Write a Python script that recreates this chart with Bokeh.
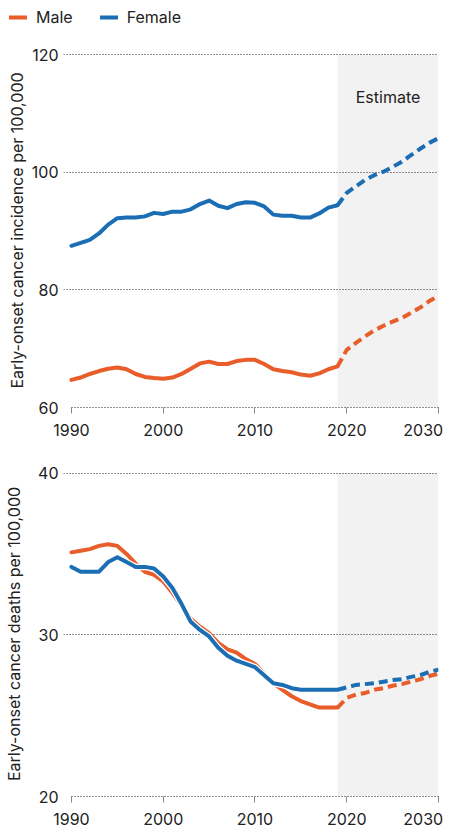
from bokeh.plotting import figure
from bokeh.models import Range1d, FixedTicker, BoxAnnotation, Legend, LegendItem, ColumnDataSource
from bokeh.layouts import column
from bokeh.embed import file_html
from bokeh.resources import INLINE
from bokeh.core.properties import value

# ---------------- data ----------------
years = list(range(1990, 2020))
proj_years = list(range(2019, 2031))

inc_male = [64.7, 65.1, 65.7, 66.2, 66.6, 66.8, 66.5, 65.7, 65.2, 65.0,
            64.9, 65.1, 65.7, 66.6, 67.5, 67.8, 67.4, 67.4, 67.9, 68.1,
            68.1, 67.4, 66.5, 66.2, 66.0, 65.6, 65.4, 65.8, 66.5, 67.0]
inc_female = [87.5, 88.0, 88.5, 89.6, 91.1, 92.2, 92.3, 92.3, 92.5, 93.1,
              92.9, 93.3, 93.3, 93.7, 94.6, 95.2, 94.3, 93.9, 94.6, 94.9,
              94.8, 94.2, 92.8, 92.6, 92.6, 92.3, 92.3, 93.0, 94.0, 94.4]
inc_male_proj = [67.0, 69.8, 71.0, 72.1, 73.1, 73.9, 74.6, 75.2, 76.1, 77.0, 78.1, 79.0]
inc_female_proj = [94.4, 96.5, 97.6, 98.7, 99.5, 100.1, 100.9, 101.8, 102.9, 104.0, 105.0, 105.8]

death_male = [35.1, 35.2, 35.3, 35.5, 35.6, 35.5, 35.0, 34.4, 33.9, 33.7,
              33.3, 32.6, 31.8, 31.0, 30.5, 30.1, 29.5, 29.1, 28.9, 28.5,
              28.2, 27.6, 27.0, 26.6, 26.2, 25.9, 25.7, 25.5, 25.5, 25.5]
death_female = [34.2, 33.9, 33.9, 33.9, 34.5, 34.8, 34.5, 34.2, 34.2, 34.1,
                33.6, 32.9, 31.9, 30.8, 30.3, 29.9, 29.2, 28.7, 28.4, 28.2,
                28.0, 27.5, 27.0, 26.9, 26.7, 26.6, 26.6, 26.6, 26.6, 26.6]
death_male_proj = [25.5, 26.1, 26.3, 26.4, 26.6, 26.7, 26.85, 26.95, 27.1, 27.25, 27.45, 27.6]
death_female_proj = [26.6, 26.75, 26.9, 26.95, 27.0, 27.1, 27.2, 27.25, 27.4, 27.5, 27.7, 27.85]

x_ticks = [1990, 2000, 2010, 2020, 2030]
inc_ticks = [60, 80, 100, 120]
death_ticks = [20, 30, 40]
est_start, est_end = 2019, 2030
series_labels = ["Male", "Female"]
estimate_label = "Estimate"

ORANGE = "#e85d2a"
BLUE = "#1b6eb4"
FONT = "Inter"
TEXT = "#222222"
GRID = "#222222"


def make_chart(height, b_top, b_bottom, yr, yticks, ylabel, lab_standoff, x_standoff,
               male, female, male_p, female_p):
    p = figure(width=453, height=height,
               x_range=Range1d(1989.13, 2030), y_range=Range1d(*yr),
               output_backend="svg", toolbar_location=None,
               min_border_left=63, min_border_right=15,
               min_border_top=b_top, min_border_bottom=b_bottom)
    p.outline_line_color = None
    p.background_fill_color = "white"
    p.border_fill_color = "white"

    p.add_layout(BoxAnnotation(left=est_start, right=est_end, top=yticks[-1],
                               fill_color="#f2f2f2", fill_alpha=1.0,
                               line_color=None, level="image"))

    # grid
    p.xgrid.visible = False
    p.ygrid.ticker = FixedTicker(ticks=yticks[1:])
    p.ygrid.grid_line_color = GRID
    p.ygrid.grid_line_dash = "1 2"
    p.ygrid.grid_line_width = 1

    # x axis
    xa = p.xaxis[0]
    xa.ticker = FixedTicker(ticks=x_ticks)
    xa.major_label_overrides = {2030: "2030\u2007"}
    xa.bounds = (x_ticks[0], x_ticks[-1])
    xa.axis_line_color = GRID
    xa.axis_line_dash = "1 2"
    xa.major_tick_in = 0
    xa.major_tick_out = 6
    xa.major_tick_line_color = "#888888"
    xa.minor_tick_line_color = None
    xa.major_label_text_font = FONT
    xa.major_label_text_font_size = "16px"
    xa.major_label_text_line_height = 1.0
    xa.major_label_text_color = TEXT
    xa.major_label_standoff = x_standoff

    # y axis
    ya = p.yaxis[0]
    ya.ticker = FixedTicker(ticks=yticks)
    ya.axis_line_color = None
    ya.major_tick_line_color = None
    ya.minor_tick_line_color = None
    ya.major_tick_out = 0
    ya.major_tick_in = 0
    ya.major_label_standoff = 5
    ya.major_label_text_font = FONT
    ya.major_label_text_font_size = "16px"
    ya.major_label_text_color = TEXT
    ya.axis_label = ylabel
    ya.axis_label_text_font = FONT
    ya.axis_label_text_font_size = "16px"
    ya.axis_label_text_font_style = "normal"
    ya.axis_label_text_color = TEXT
    ya.axis_label_standoff = lab_standoff

    p.line(years, male, line_color=ORANGE, line_width=4,
           line_join="round", line_cap="round")
    p.line(proj_years, male_p, line_color=ORANGE, line_width=4,
           line_dash="9 5", line_join="round")
    p.line(years, female, line_color="white", line_width=6.5,
           line_join="round", line_cap="round")
    p.line(years, female, line_color=BLUE, line_width=4,
           line_join="round", line_cap="round")
    p.line(proj_years, female_p, line_color=BLUE, line_width=4,
           line_dash="9 5", line_join="round")
    return p


# legend strip
leg = figure(width=453, height=40, x_range=Range1d(0, 1), y_range=Range1d(0, 1),
             output_backend="svg", toolbar_location=None,
             x_axis_location=None, y_axis_location=None, min_border=0)
leg.frame_align = False
leg.outline_line_color = None
leg.grid.visible = False
src = ColumnDataSource(data=dict(x=[-10, -9], y=[-10, -9]))
lm = leg.line("x", "y", source=src, line_color=ORANGE, line_width=4, line_cap="round")
lf = leg.line("x", "y", source=src, line_color=BLUE, line_width=4, line_cap="round")
legend = Legend(items=[LegendItem(label=series_labels[0], renderers=[lm]),
                       LegendItem(label=series_labels[1], renderers=[lf])],
                orientation="horizontal", location=(9, 13),
                glyph_width=18, glyph_height=20, label_standoff=9, spacing=27,
                padding=0, margin=0, border_line_color=None,
                background_fill_alpha=0,
                label_text_font=FONT, label_text_font_size="16px",
                label_text_color=TEXT)
leg.add_layout(legend, "center")

top = make_chart(405, 13, 38, (60, 120.2), inc_ticks,
                 "Early-onset cancer incidence per 100,000", 2, 6,
                 inc_male, inc_female, inc_male_proj, inc_female_proj)
top.text(x=[2024.5], y=[112.8], text=[estimate_label], text_align="center",
         text_baseline="middle", text_font=value(FONT), text_font_size="16px",
         text_color=TEXT)

bottom = make_chart(386, 26, 32, (20, 40.1), death_ticks,
                    "Early-onset cancer deaths per 100,000", 11, 6,
                    death_male, death_female, death_male_proj, death_female_proj)

layout = column(leg, top, bottom, spacing=0)
open("out.html", "w").write(file_html(layout, INLINE))
